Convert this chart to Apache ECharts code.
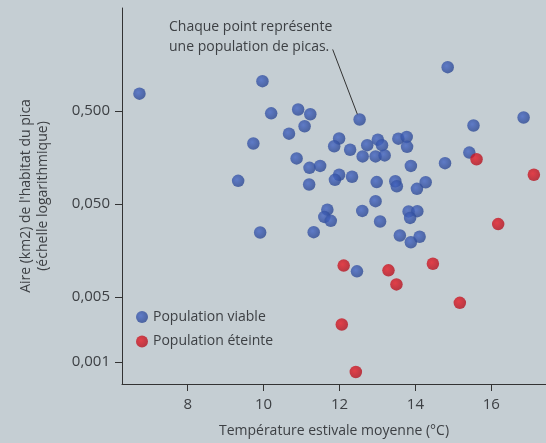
<!DOCTYPE html>
<html>
<head>
<meta charset="utf-8">
<title>Pika</title>
<style>
    * { margin: 0; padding: 0; }
    html, body { background: #c5ced3; }
    #main { width: 546px; height: 443px; }
</style>
</head>
<body>
<div id="main"></div>
<script src="https://cdn.jsdelivr.net/npm/echarts@6/dist/echarts.min.js"></script>
<script>
// populations viables : temperature (°C) et aire (km2)
var tempViable = [6.73, 9.97, 10.20, 9.73, 9.33, 9.91, 10.91, 11.23, 11.08, 10.67,
    10.87, 11.21, 11.49, 11.20, 11.99, 11.86, 12.28, 12.53, 11.99, 11.88,
    12.33, 12.73, 13.01, 13.12, 12.61, 12.95, 13.19, 13.55, 13.77, 13.78,
    12.98, 13.47, 13.51, 13.88, 14.27, 14.04, 14.78, 14.85, 15.53, 16.85,
    15.42, 12.95, 12.60, 11.68, 11.60, 11.77, 11.32, 13.07, 13.82, 14.05,
    13.86, 13.59, 13.88, 14.11, 12.46];
var areaViable = [0.764, 1.04, 0.470, 0.223, 0.0885, 0.0247, 0.516, 0.459, 0.341, 0.284,
    0.154, 0.122, 0.128, 0.0809, 0.252, 0.208, 0.191, 0.403, 0.103, 0.0908,
    0.0980, 0.214, 0.245, 0.214, 0.162, 0.162, 0.166, 0.251, 0.262, 0.205,
    0.0859, 0.0877, 0.0775, 0.128, 0.0855, 0.0727, 0.137, 1.47, 0.348, 0.424,
    0.178, 0.0535, 0.0421, 0.0434, 0.0363, 0.0329, 0.0249, 0.0324, 0.0416, 0.0418,
    0.0354, 0.0229, 0.0194, 0.0222, 0.00944];

// populations eteintes
var tempEteinte = [15.61, 17.12, 16.18, 12.11, 13.29, 13.50, 14.46, 15.17, 12.06, 12.43];
var areaEteinte = [0.151, 0.103, 0.0304, 0.0109, 0.00968, 0.00684, 0.0114, 0.00434, 0.00254, 0.000785];

var xTicks = [8, 10, 12, 14, 16];
var yTicks = [0.001, 0.005, 0.05, 0.5];

function pairs(xs, ys) {
    var out = [];
    for (var i = 0; i < xs.length; i++) {
        out.push([xs[i], ys[i]]);
    }
    return out;
}

var textColor = '#3d4044';
var font = '"Open Sans", "Noto Sans", sans-serif';

var myChart = echarts.init(document.getElementById('main'), null, { renderer: 'canvas' });
var option = {
    backgroundColor: '#c5ced3',
    animation: false,
    textStyle: { fontFamily: font, color: textColor },
    grid: { left: 122, right: 0, top: 8, bottom: 57, containLabel: false },
    legend: {
        orient: 'vertical',
        left: 131,
        top: 305,
        icon: 'circle',
        itemWidth: 12,
        itemHeight: 12,
        itemGap: 10.5,
        textStyle: { fontSize: 14, lineHeight: 14, color: textColor, fontFamily: font },
        data: ['Population viable', 'Population éteinte']
    },
    xAxis: {
        type: 'value',
        min: 6.27,
        max: 17.44,
        name: 'Température estivale moyenne (°C)',
        nameLocation: 'middle',
        nameGap: 40,
        nameTextStyle: { fontSize: 14, color: textColor, fontFamily: font },
        splitLine: { show: false },
        axisLine: { lineStyle: { color: '#333', width: 1 } },
        axisTick: { length: 7, lineStyle: { color: '#333' }, customValues: xTicks },
        axisLabel: { fontSize: 15, color: textColor, margin: 13, customValues: xTicks }
    },
    yAxis: {
        type: 'log',
        logBase: 10,
        min: 0.000583,
        max: 6.35,
        name: "Aire (km2) de l'habitat du pica\n(échelle logarithmique)",
        nameLocation: 'middle',
        nameRotate: 90,
        nameGap: 70,
        nameTextStyle: { fontSize: 14, lineHeight: 17, color: textColor, fontFamily: font, align: 'center' },
        splitLine: { show: false },
        axisLine: { show: true, lineStyle: { color: '#333', width: 1 } },
        axisTick: { show: true, length: 7, lineStyle: { color: '#333' }, customValues: yTicks },
        axisLabel: {
            fontSize: 15,
            color: textColor,
            margin: 12,
            customValues: yTicks,
            formatter: function (v) {
                return v.toFixed(3).replace('.', ',');
            }
        }
    },
    graphic: [{
        type: 'text',
        left: 169,
        top: 17,
        style: {
            text: 'Chaque point représente\nune population de picas.',
            font: '14px ' + font,
            fill: textColor,
            lineHeight: 20
        }
    }],
    series: [
        {
            name: 'Population viable',
            type: 'scatter',
            symbolSize: 12.5,
            itemStyle: {
                color: new echarts.graphic.RadialGradient(0.4, 0.4, 0.65, [
                    { offset: 0, color: '#4566c4' },
                    { offset: 1, color: '#2c4790' }
                ])
            },
            data: pairs(tempViable, areaViable),
            markLine: {
                silent: true,
                symbol: 'none',
                label: { show: false },
                lineStyle: { color: '#333', width: 1, type: 'solid' },
                data: [[{ coord: [11.82, 2.28] }, { coord: [12.47, 0.459] }]]
            }
        },
        {
            name: 'Population éteinte',
            type: 'scatter',
            symbolSize: 12.5,
            itemStyle: {
                color: new echarts.graphic.RadialGradient(0.4, 0.4, 0.65, [
                    { offset: 0, color: '#e81c26' },
                    { offset: 1, color: '#b0121f' }
                ])
            },
            data: pairs(tempEteinte, areaEteinte)
        }
    ]
};
myChart.setOption(option);
</script>
</body>
</html>
